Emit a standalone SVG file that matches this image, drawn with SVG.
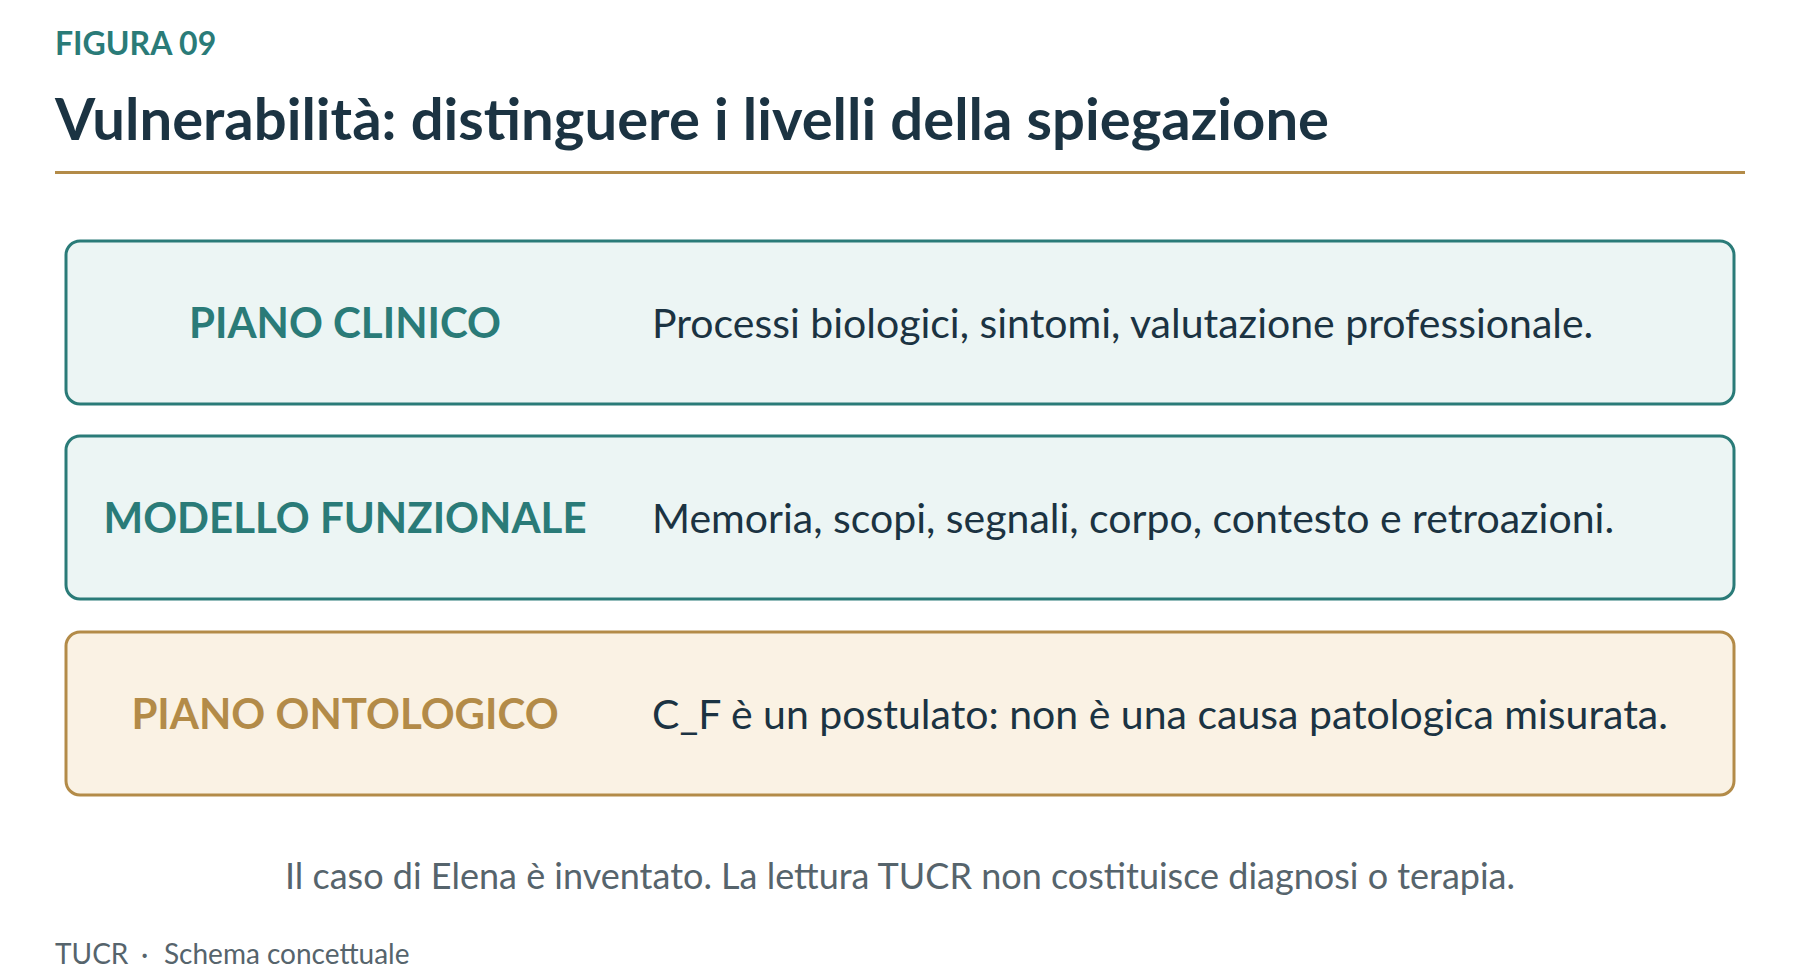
<svg xmlns="http://www.w3.org/2000/svg" width="1800" height="980" viewBox="0 0 1800 980">
<style>
.kicker{font-family:Lato,"Liberation Sans",sans-serif;font-weight:700;font-size:32px;fill:#2a7b78}
.title{font-family:Lato,"Liberation Sans",sans-serif;font-weight:700;font-size:58px;fill:#1b3342}
.box-teal{fill:#ecf5f4;stroke:#2a7b78;stroke-width:3}
.box-gold{fill:#faf2e4;stroke:#b38b48;stroke-width:3}
.lab{font-family:Lato,"Liberation Sans",sans-serif;font-weight:700;font-size:42px;text-anchor:middle}
.lab-teal{fill:#2a7b78}
.lab-gold{fill:#b38b48}
.desc{font-family:Lato,"Liberation Sans",sans-serif;font-weight:400;font-size:41px;fill:#1b3342}
.note{font-family:Lato,"Liberation Sans",sans-serif;font-weight:400;font-size:36px;fill:#56646c;text-anchor:middle}
.foot{font-family:Lato,"Liberation Sans",sans-serif;font-weight:400;font-size:28px;fill:#56646c}
</style>
<rect width="1800" height="980" fill="#ffffff"/>
<g id="header">
<text class="kicker" x="55" y="55">FIGURA 09</text>
<text class="title" x="55" y="140">Vulnerabilità: distinguere i livelli della spiegazione</text>
<rect x="55" y="171" width="1690" height="3" fill="#b38b48"/>
</g>
<g id="connectors"></g>
<g id="node-clinico">
<rect class="box-teal" x="66" y="241" width="1668" height="163" rx="14"/>
<text class="lab lab-teal" x="345" y="338">PIANO CLINICO</text>
<text class="desc" x="652" y="338">Processi biologici, sintomi, valutazione professionale.</text>
</g>
<g id="node-funzionale">
<rect class="box-teal" x="66" y="436" width="1668" height="163" rx="14"/>
<text class="lab lab-teal" x="345" y="533">MODELLO FUNZIONALE</text>
<text class="desc" x="652" y="533">Memoria, scopi, segnali, corpo, contesto e retroazioni.</text>
</g>
<g id="node-ontologico">
<rect class="box-gold" x="66" y="632" width="1668" height="163" rx="14"/>
<text class="lab lab-gold" x="345" y="729">PIANO ONTOLOGICO</text>
<text class="desc" x="652" y="729">C_F è un postulato: non è una causa patologica misurata.</text>
</g>
<g id="footer">
<text class="note" x="900" y="889">Il caso di Elena è inventato. La lettura TUCR non costituisce diagnosi o terapia.</text>
<text class="foot" x="55" y="964">TUCR</text>
<text class="foot" x="141" y="964">·</text>
<text class="foot" x="164" y="964">Schema concettuale</text>
</g>
</svg>
